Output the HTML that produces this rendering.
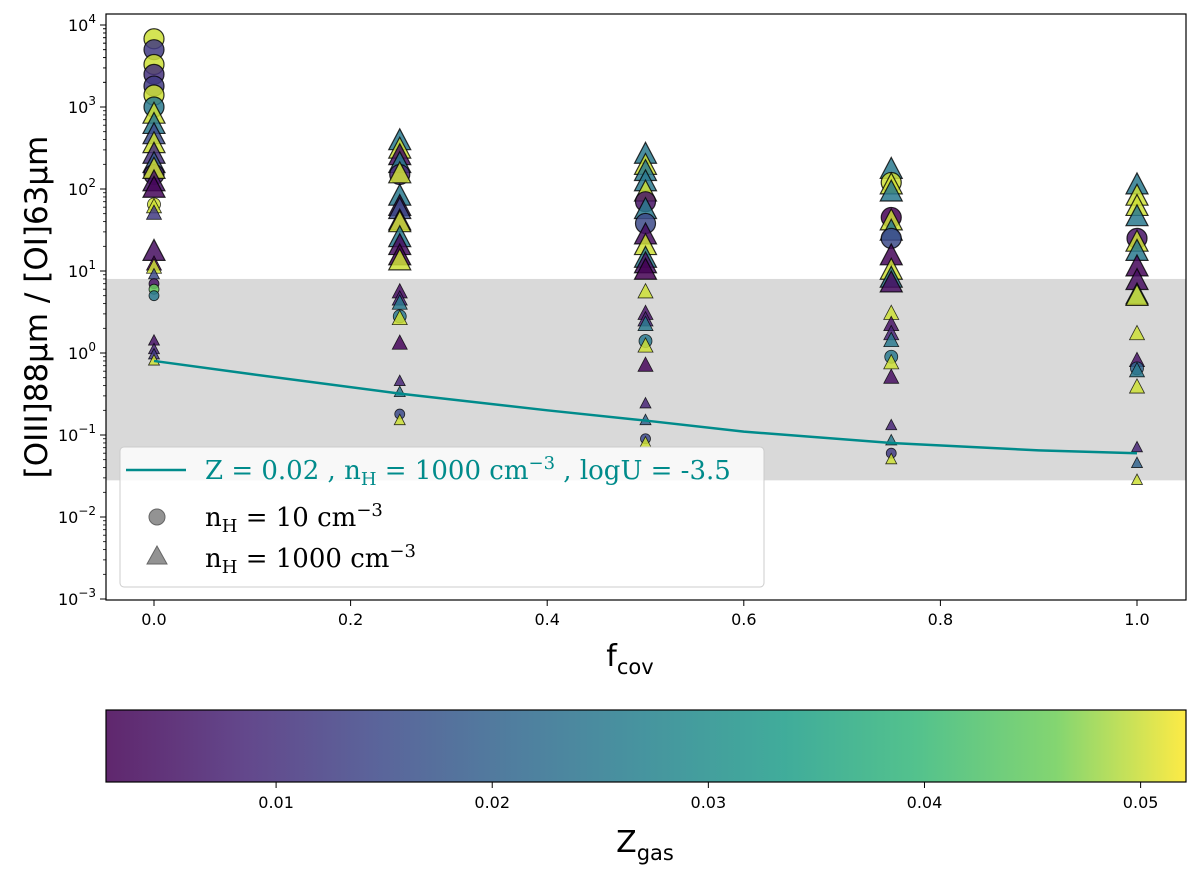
<!DOCTYPE html>
<html><head><meta charset="utf-8"><style>
body{margin:0;background:#fff}
svg text{font-family:"DejaVu Sans","Liberation Sans",sans-serif}
.serif{font-family:"DejaVu Serif","Liberation Serif",serif}
</style></head><body>
<svg id="chart" width="1200" height="874" xmlns="http://www.w3.org/2000/svg">
<defs>
<linearGradient id="vir" x1="0" x2="1" y1="0" y2="0">
<stop offset="0" stop-color="#440154"/><stop offset="0.13" stop-color="#482878"/><stop offset="0.25" stop-color="#3e4989"/><stop offset="0.38" stop-color="#31688e"/><stop offset="0.5" stop-color="#26828e"/><stop offset="0.63" stop-color="#1f9e89"/><stop offset="0.75" stop-color="#35b779"/><stop offset="0.88" stop-color="#6ece58"/><stop offset="1" stop-color="#fde725"/>
</linearGradient>
</defs>
<g id="plot"></g>
</svg>
<script>
const fcov  = [0,0,0,0,0,0,0,0,0,0,0,0,0,0,0,0,0,0,0,0,0,0,0,0,0,0,0,0,0,0,0,
 0.25,0.25,0.25,0.25,0.25,0.25,0.25,0.25,0.25,0.25,0.25,0.25,0.25,0.25,0.25,0.25,0.25,0.25,0.25,0.25,0.25,0.25,0.25,0.25,0.25,
 0.5,0.5,0.5,0.5,0.5,0.5,0.5,0.5,0.5,0.5,0.5,0.5,0.5,0.5,0.5,0.5,0.5,0.5,0.5,0.5,0.5,0.5,0.5,0.5,
 0.75,0.75,0.75,0.75,0.75,0.75,0.75,0.75,0.75,0.75,0.75,0.75,0.75,0.75,0.75,0.75,0.75,0.75,0.75,0.75,0.75,0.75,0.75,
 1,1,1,1,1,1,1,1,1,1,1,1,1,1,1,1,1,1,1];
const ratio = [6800,5000,3300,2500,1800,1400,1000,800,600,450,350,260,200,150,170,120,100,65,60,50,17,12,11,9,7,6,5,1.4,1.1,0.95,0.8,
 380,300,250,200,150,150,80,60,55,40,38,25,20,15,13,5.5,4.5,4,2.8,2.6,1.3,0.45,0.33,0.18,0.15,
 260,190,160,120,90,70,55,38,27,20,14,12,10,5.5,3,2.5,2.2,1.4,1.2,0.7,0.24,0.15,0.09,0.08,
 170,120,110,90,45,40,30,25,15,10,8,7,3,2.2,1.7,1.4,0.9,0.75,0.5,0.13,0.085,0.06,0.05,
 110,80,60,45,25,22,17,11,7.5,5,4.8,1.7,0.8,0.65,0.6,0.38,0.07,0.045,0.028];
const zgas  = [0.05,0.012,0.05,0.01,0.012,0.05,0.025,0.05,0.025,0.015,0.05,0.01,0.018,0.008,0.05,0.005,0.003,0.05,0.05,0.012,0.004,0.002,0.05,0.015,0.005,0.045,0.025,0.005,0.008,0.012,0.05,
 0.025,0.05,0.004,0.025,0.008,0.05,0.025,0.005,0.015,0.003,0.05,0.025,0.004,0.003,0.05,0.004,0.008,0.025,0.025,0.05,0.003,0.008,0.025,0.015,0.05,
 0.025,0.05,0.025,0.025,0.05,0.005,0.025,0.015,0.004,0.05,0.025,0.005,0.002,0.05,0.005,0.008,0.025,0.025,0.05,0.003,0.008,0.02,0.015,0.05,
 0.025,0.05,0.05,0.025,0.002,0.05,0.025,0.015,0.003,0.05,0.025,0.004,0.05,0.005,0.008,0.025,0.025,0.05,0.004,0.008,0.025,0.012,0.05,
 0.025,0.05,0.05,0.025,0.005,0.05,0.025,0.003,0.004,0.025,0.05,0.05,0.005,0.02,0.025,0.05,0.008,0.02,0.05];
const marker = [
 'c','c','c','c','c','c','c','t','t','t','t','t','t','c','t','t','t','c','t','t','t','t','t','t','c','c','c','t','t','t','t',
 't','t','t','t','c','t','t','t','t','t','t','t','t','t','t','t','t','t','c','t','t','t','t','c','t',
 't','t','t','t','t','c','t','c','t','t','t','t','t','t','t','t','t','c','t','t','t','t','c','t',
 't','c','t','t','c','t','t','c','t','t','t','t','t','t','t','t','c','t','t','t','t','c','t',
 't','t','t','t','c','t','t','t','t','t','t','t','t','c','t','t','t','t','t'];
const msize = [
 'B','B','B','B','B','B','B','B','B','B','B','B','B','B','B','B','B','M','M','M','B','M','M','S','S','S','S','S','S','S','S',
 'B','B','B','B','B','B','B','B','B','B','B','B','B','B','B','M','M','M','M','M','M','S','S','S','S',
 'B','B','B','B','B','B','B','B','B','B','B','B','B','M','M','M','M','M','M','M','S','S','S','S',
 'B','B','B','B','B','B','B','B','B','B','B','B','M','M','M','M','M','M','M','S','S','S','S',
 'B','B','B','B','B','B','B','B','B','B','B','M','M','M','M','M','S','S','S'];
const lineX = [0,0.1,0.25,0.4,0.5,0.6,0.75,0.9,1.0];
const lineY = [0.8,0.55,0.32,0.2,0.15,0.11,0.08,0.065,0.06];
const yTickExp = [4,3,2,1,0,-1,-2,-3];
const xTicks = [0,0.2,0.4,0.6,0.8,1.0];
const xTickLabels = ["0.0","0.2","0.4","0.6","0.8","1.0"];
const cbTicks = [0.01,0.02,0.03,0.04,0.05];
const cbTickLabels = ["0.01","0.02","0.03","0.04","0.05"];
const bandLow = 0.028, bandHigh = 8;

const NS="http://www.w3.org/2000/svg";
const L=106,R=1186,T=14,B=600;
const xs=v=>154+v*(1137-154);
const ys=v=>353-Math.log10(v)*82;
const zmin=0.00213,zmax=0.0521;
const cbx=z=>106+(z-zmin)/(zmax-zmin)*1080;
const vir=[[68,1,84],[72,40,120],[62,73,137],[49,104,142],[38,130,142],[31,158,137],[53,183,121],[110,206,88],[253,231,37]];
function col(z){let t=Math.max(0,Math.min(1,(z-zmin)/(zmax-zmin)))*8;let i=Math.min(7,Math.floor(t)),f=t-i;const c=vir[i].map((a,k)=>Math.round(a+(vir[i+1][k]-a)*f));return `rgb(${c})`;}
const g=document.getElementById('plot');
function el(tag,attrs,parent){const e=document.createElementNS(NS,tag);for(const k in attrs)e.setAttribute(k,attrs[k]);(parent||g).appendChild(e);return e;}
function txt(x,y,s,attrs,parent){const e=el('text',Object.assign({x,y},attrs),parent);e.innerHTML=s;return e;}

const band=el('rect',{x:L,y:ys(bandHigh),width:R-L,height:ys(bandLow)-ys(bandHigh),fill:'#d9d9d9'});



for(let i=0;i<ratio.length;i++){
  const x=xs(fcov[i]),y=ys(ratio[i]),c=col(zgas[i]),s=msize[i];
  let m;
  if(marker[i]==='c'){
    const r=s==='B'?10:s==='M'?6.5:5;
    m=el('circle',{cx:x,cy:y,r,fill:c,'fill-opacity':0.85,stroke:'#000','stroke-width':s==='B'?1.2:0.8,'stroke-opacity':0.8});
  } else {
    const h=s==='B'?11:s==='M'?7.5:5.5;
    m=el('polygon',{points:`${x},${y-h*1.15} ${x-h},${y+h*0.75} ${x+h},${y+h*0.75}`,fill:c,'fill-opacity':0.85,stroke:'#000','stroke-width':s==='B'?1.2:0.8,'stroke-opacity':0.8});
  }
  
  
}
const pl=el('polyline',{points:lineX.map((v,i)=>xs(v)+','+ys(lineY[i])).join(' '),fill:'none',stroke:'#008b8b','stroke-width':2.5});



const fr=el('rect',{x:L,y:T,width:R-L,height:B-T,fill:'none',stroke:'#000','stroke-width':1.2});



yTickExp.forEach(e=>{
  const y=ys(Math.pow(10,e));
  el('line',{x1:L-6,x2:L,y1:y,y2:y,stroke:'#000','stroke-width':1});
  const t=txt(L-10,y+6,`10<tspan dy="-8" font-size="12">${e<0?'−'+(-e):e}</tspan>`,{'text-anchor':'end','font-size':16});
  
  
  if(e>-3) for(let k=2;k<10;k++){const ym=ys(k*Math.pow(10,e-1));if(ym<=B&&ym>=T)el('line',{x1:L-3,x2:L,y1:ym,y2:ym,stroke:'#000','stroke-width':0.8});}
});
for(let k=2;k<10;k++){const ym=ys(k*1000);if(ym>=T)el('line',{x1:L-3,x2:L,y1:ym,y2:ym,stroke:'#000','stroke-width':0.8});}
xTicks.forEach((v,i)=>{
  const x=xs(v);
  el('line',{x1:x,x2:x,y1:B,y2:B+6,stroke:'#000','stroke-width':1});
  const t=txt(x,B+25,xTickLabels[i],{'text-anchor':'middle','font-size':16});
  
  
});
const yl=txt(0,0,'[OIII]88μm / [OI]63μm',{'font-size':31,'text-anchor':'middle',transform:`translate(47,${(T+B)/2}) rotate(-90)`});


const xl=txt(630,666,'f<tspan dy="8" font-size="21">cov</tspan>',{'font-size':30,'text-anchor':'middle'});



const lg=el('g',{});


el('rect',{x:120,y:447,width:644,height:140,rx:4,fill:'#fff','fill-opacity':0.8,stroke:'#ccc'},lg);
el('line',{x1:126,x2:186,y1:470,y2:470,stroke:'#008b8b','stroke-width':2.5},lg);
txt(205,479,'Z = 0.02 , n<tspan dy="6" font-size="18">H</tspan><tspan dy="-6"> = 1000 cm</tspan><tspan dy="-10" font-size="18">−3</tspan><tspan dy="10"> , logU = -3.5</tspan>',{'font-size':26,fill:'#008b8b',class:'serif'},lg);
el('circle',{cx:157,cy:517,r:8,fill:'#808080','fill-opacity':0.85,stroke:'#666'},lg);
txt(205,526,'n<tspan dy="6" font-size="18">H</tspan><tspan dy="-6"> = 10 cm</tspan><tspan dy="-10" font-size="18">−3</tspan>',{'font-size':26,class:'serif'},lg);
el('polygon',{points:'157,546 147,564 167,564',fill:'#808080','fill-opacity':0.85,stroke:'#666'},lg);
txt(205,567,'n<tspan dy="6" font-size="18">H</tspan><tspan dy="-6"> = 1000 cm</tspan><tspan dy="-10" font-size="18">−3</tspan>',{'font-size':26,class:'serif'},lg);

const cb=el('rect',{x:106,y:710,width:1080,height:72,fill:'url(#vir)','fill-opacity':0.85,stroke:'#000','stroke-width':1.2});


cbTicks.forEach((v,i)=>{
  const x=cbx(v);
  el('line',{x1:x,x2:x,y1:782,y2:788,stroke:'#000','stroke-width':1});
  const t=txt(x,808,cbTickLabels[i],{'text-anchor':'middle','font-size':16});
  
  
});
const cl=txt(645,852,'Z<tspan dy="8" font-size="21">gas</tspan>',{'font-size':30,'text-anchor':'middle'});


</script>
</body></html>
